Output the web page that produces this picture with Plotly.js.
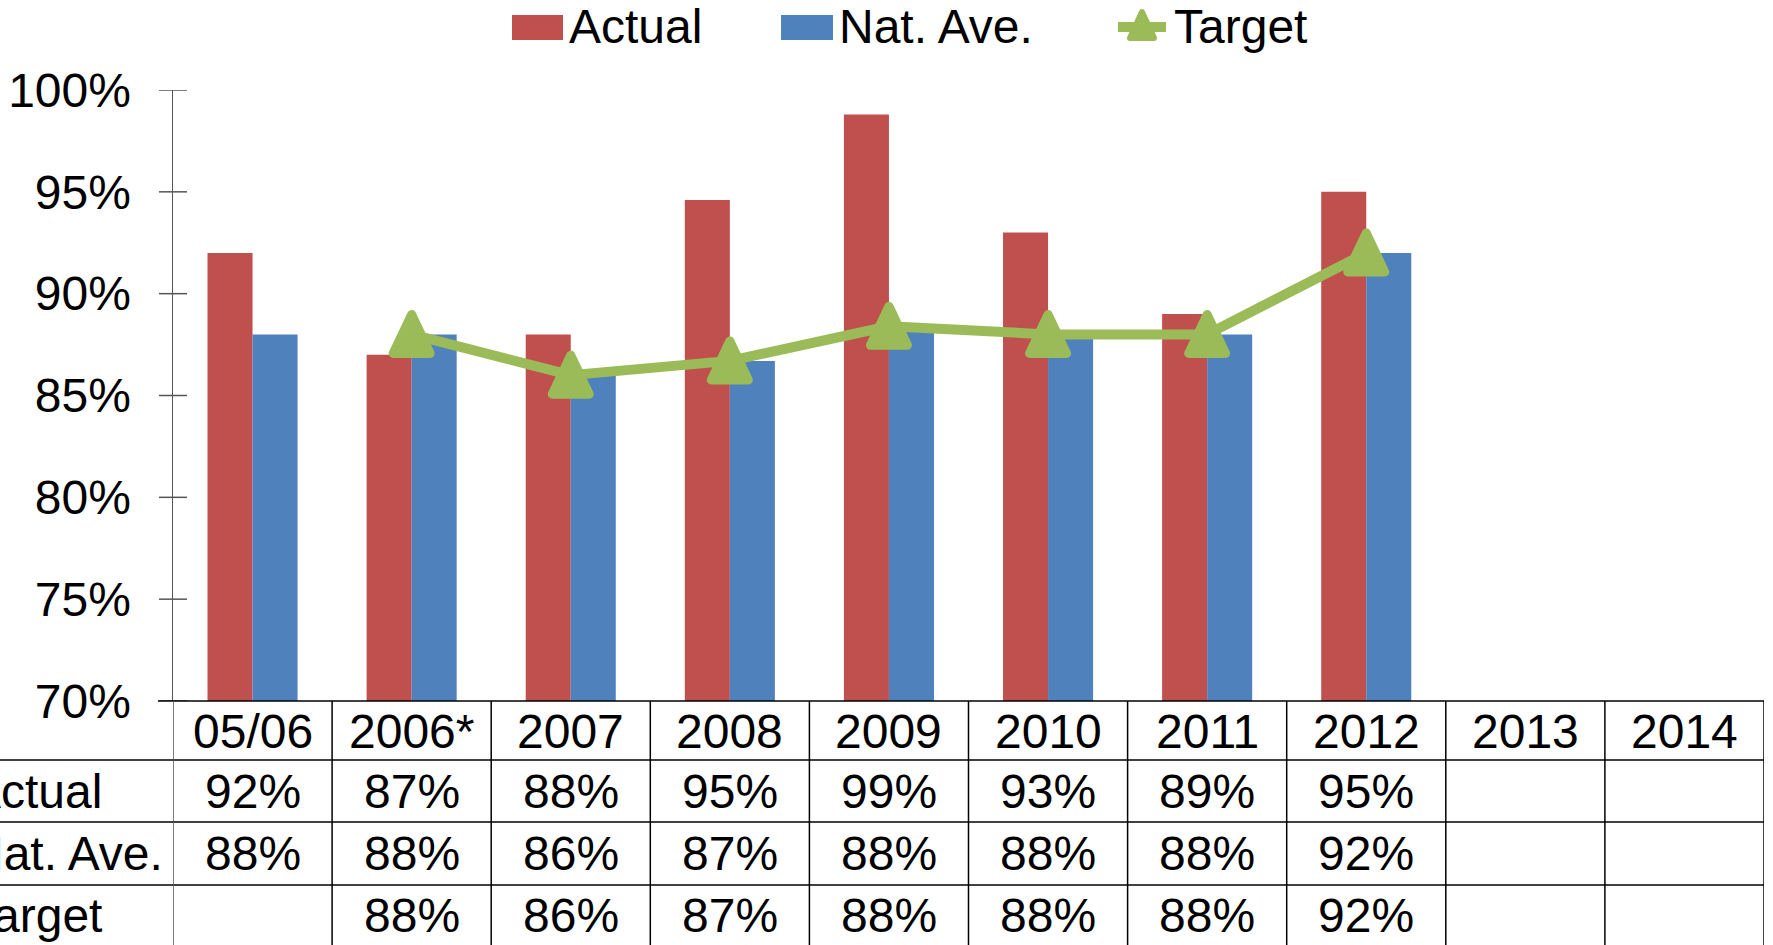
<!DOCTYPE html>
<html>
<head>
<meta charset="utf-8">
<script src="https://cdn.plot.ly/plotly-3.0.1.min.js"></script>
<style>
  html, body { margin: 0; padding: 0; background: #fff; }
  #chart { width: 1773px; height: 945px; }
  .scatterlayer path.js-line { stroke-linejoin: round; }
  .shapelayer path { stroke-linejoin: round; }
</style>
</head>
<body>
<div id="chart"></div>
<script>
// ---- data ----
const categories = ['05/06', '2006*', '2007', '2008', '2009', '2010', '2011', '2012', '2013', '2014'];
const actual = [92, 87, 88, 94.6, 98.8, 93, 89, 95, null, null];
const natAve = [88, 88, 86, 86.7, 88.4, 88, 88, 92, null, null];
const target = [null, 88, 86, 86.7, 88.4, 88, 88, 92, null, null];
const seriesNames = ['Actual', 'Nat. Ave.', 'Target'];
const yTickVals = [70, 75, 80, 85, 90, 95, 100];
const yTickText = ['70%', '75%', '80%', '85%', '90%', '95%', '100%'];

// ---- styling / layout constants ----
const W = 1773, H = 945;
const M = { l: 173, r: 9, t: 90, b: 244 };
const plotW = W - M.l - M.r;
const plotH = H - M.t - M.b;
const FONT = '"Liberation Sans", Arial, sans-serif';
const FS = 48;
const RED = '#C0504D', BLUE = '#4F81BD', GREEN = '#9BBB59';
const px2x = p => (p - M.l) / plotW;          // pixel -> paper x
const py2y = p => (H - M.b - p) / plotH;       // pixel -> paper y

// triangle marker outline (pixel offsets relative to the anchored data point, +y up)
const TRI = 'M0,20 L18.5,-19 L-18.5,-19 Z';

const traces = [
  { type: 'bar', name: seriesNames[0], x: categories, y: actual, marker: { color: RED }, hoverinfo: 'none' },
  { type: 'bar', name: seriesNames[1], x: categories, y: natAve, marker: { color: BLUE }, hoverinfo: 'none' },
  { type: 'scatter', mode: 'lines', name: seriesNames[2], x: categories, y: target,
    line: { color: GREEN, width: 10 }, cliponaxis: false, hoverinfo: 'none' }
];

const shapes = [];
const annotations = [];
const LINE = { color: '#000', width: 1.5 };
const AXC = '#555';

// triangle markers of the Target series, anchored at the data values (category index on x)
target.forEach((v, i) => {
  if (v === null) return;
  shapes.push({ type: 'path', xref: 'x', yref: 'y', xsizemode: 'pixel', ysizemode: 'pixel',
    xanchor: i, yanchor: v, path: TRI,
    fillcolor: GREEN, line: { color: GREEN, width: 9 }, layer: 'above' });
});

// y-axis tick marks crossing the axis
yTickVals.forEach(v => {
  shapes.push({ type: 'line', xref: 'paper', yref: 'y', x0: px2x(159), x1: px2x(187), y0: v, y1: v,
    line: { color: AXC, width: 1.5 }, layer: 'above' });
});

// table grid: horizontal lines
const rowEdges = [701, 760, 822, 885];
shapes.push({ type: 'line', xref: 'paper', yref: 'paper', x0: px2x(158), x1: 1, y0: py2y(rowEdges[0]), y1: py2y(rowEdges[0]), line: LINE, layer: 'above' });
for (let i = 1; i < rowEdges.length; i++) {
  shapes.push({ type: 'line', xref: 'paper', yref: 'paper', x0: px2x(0), x1: 1, y0: py2y(rowEdges[i]), y1: py2y(rowEdges[i]), line: LINE, layer: 'above' });
}
// vertical lines at category boundaries
for (let k = 0; k <= categories.length; k++) {
  shapes.push({ type: 'line', xref: 'x', yref: 'paper', x0: k - 0.5, x1: k - 0.5,
    y0: py2y(rowEdges[0]), y1: py2y(H + 10), line: k === 0 ? { color: AXC, width: 1.5 } : LINE, layer: 'above' });
}

// table text
const rowCenters = [731, 791, 853, 915];
categories.forEach((c, i) => {
  annotations.push({ xref: 'x', yref: 'paper', x: i, y: py2y(rowCenters[0]), text: c, showarrow: false,
    font: { family: FONT, size: FS, color: '#000' }, xanchor: 'center', yanchor: 'middle' });
});
[actual, natAve, target].forEach((arr, r) => {
  annotations.push({ xref: 'paper', yref: 'paper', x: px2x(-33), y: py2y(rowCenters[r + 1]), text: seriesNames[r],
    showarrow: false, font: { family: FONT, size: FS, color: '#000' }, xanchor: 'left', yanchor: 'middle' });
  arr.forEach((v, i) => {
    if (v === null) return;
    annotations.push({ xref: 'x', yref: 'paper', x: i, y: py2y(rowCenters[r + 1]), text: Math.round(v) + '%',
      showarrow: false, font: { family: FONT, size: FS, color: '#000' }, xanchor: 'center', yanchor: 'middle' });
  });
});

// manual legend
const legY = 27;
shapes.push({ type: 'rect', xref: 'paper', yref: 'paper', x0: px2x(512), x1: px2x(563), y0: py2y(15), y1: py2y(40), fillcolor: RED, line: { width: 0 } });
shapes.push({ type: 'rect', xref: 'paper', yref: 'paper', x0: px2x(781), x1: px2x(833), y0: py2y(15), y1: py2y(40), fillcolor: BLUE, line: { width: 0 } });
shapes.push({ type: 'line', xref: 'paper', yref: 'paper', x0: px2x(1118), x1: px2x(1166), y0: py2y(legY), y1: py2y(legY), line: { color: GREEN, width: 10 } });
shapes.push({ type: 'path', xref: 'paper', yref: 'paper',
  path: `M${px2x(1130)},${py2y(38)} L${px2x(1154)},${py2y(38)} L${px2x(1142)},${py2y(12)} Z`,
  fillcolor: GREEN, line: { color: GREEN, width: 6 } });
[[567, seriesNames[0]], [837, seriesNames[1]], [1172, seriesNames[2]]].forEach(([x, t]) => {
  annotations.push({ xref: 'paper', yref: 'paper', x: px2x(x), y: py2y(legY), text: t, showarrow: false,
    font: { family: FONT, size: FS, color: '#000' }, xanchor: 'left', yanchor: 'middle' });
});

const layout = {
  width: W, height: H,
  margin: M,
  paper_bgcolor: '#fff', plot_bgcolor: '#fff',
  showlegend: false,
  barmode: 'group', bargap: 0.434, bargroupgap: 0,
  font: { family: FONT, size: FS, color: '#000' },
  xaxis: { type: 'category', range: [-0.5, categories.length - 0.5], showticklabels: false, ticks: '',
    showgrid: false, zeroline: false, showline: false, fixedrange: true },
  yaxis: { range: [70, 100], tickvals: yTickVals, ticktext: yTickText, showgrid: false, zeroline: false,
    showline: true, linecolor: AXC, linewidth: 1.5, ticks: '', ticklabelstandoff: 31,
    tickfont: { family: FONT, size: FS, color: '#000' }, fixedrange: true },
  shapes: shapes,
  annotations: annotations
};

Plotly.newPlot('chart', traces, layout, { displayModeBar: false, staticPlot: true });
</script>
</body>
</html>
